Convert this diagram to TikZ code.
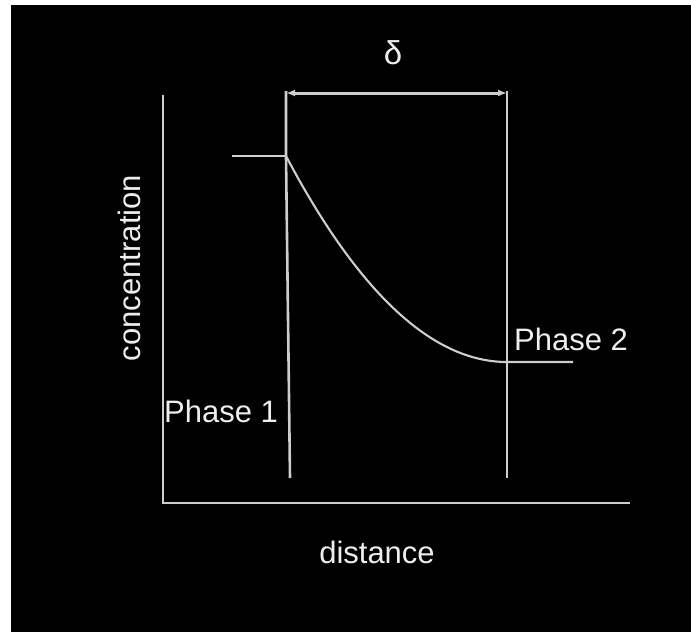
\documentclass[tikz,border=0pt]{standalone}
\usepackage{fontspec}
\setmainfont{Liberation Sans}
\usetikzlibrary{arrows.meta}
\definecolor{linegray}{RGB}{205,205,205}
\definecolor{textwhite}{RGB}{238,238,238}
\tikzset{
  plotline/.style={draw=linegray, line width=2.6pt},
  lbl/.style={text=textwhite, inner sep=0pt, font=\fontsize{31}{36}\selectfont},
}
\begin{document}
\begin{tikzpicture}[x=1pt,y=-1pt]
\useasboundingbox (0,0) rectangle (691,632);
\fill[white] (0,0) rectangle (691,632);
\fill[black] (11,5) rectangle (691,632);
% key points
\coordinate (ytop) at (163,95);
\coordinate (origin) at (163,503);
\coordinate (xend) at (630,503);
\coordinate (ltop) at (286,91);
\coordinate (lknee) at (286,156);
\coordinate (lbot) at (290,478);
\coordinate (rtop) at (507,91);
\coordinate (rbot) at (507,478);
\coordinate (cend) at (507,362);
\coordinate (flatL) at (232,156);
\coordinate (flatR) at (573,362);
\coordinate (aL) at (286,93);
\coordinate (aR) at (507,93);
% axes
\draw[plotline] (ytop) -- (origin) -- (xend);
% boundary lines
\draw[plotline] (ltop) -- (lknee) -- (lbot);
\draw[plotline] (rtop) -- (rbot);
% concentration profile
\draw[plotline] (flatL) -- (lknee);
\draw[plotline, line width=2.1pt] (lknee) .. controls (359,294) and (433,362) .. (cend) -- (flatR);
% delta dimension arrow
\draw[plotline, line width=3pt, {Latex[length=9pt,width=7pt]}-{Latex[length=9pt,width=7pt]}] (aL) -- (aR);
% labels
\node[lbl, anchor=center, font=\fontsize{33}{38}\selectfont] (delta) at (393,53) {δ};
\node[lbl, anchor=base west] (p1) at (164,422) {Phase 1};
\node[lbl, anchor=base west] (p2) at (514,350) {Phase 2};
\node[lbl, anchor=base] (xl) at (377,563) {distance};
\node[lbl, anchor=base, rotate=90] (yl) at (140,268) {concentration};
\end{tikzpicture}
\end{document}
